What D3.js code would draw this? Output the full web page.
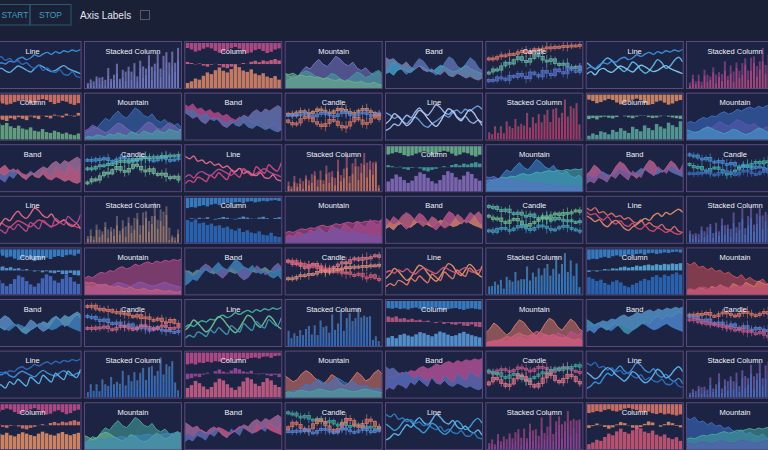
<!DOCTYPE html>
<html><head><meta charset="utf-8">
<script src="https://cdn.jsdelivr.net/npm/d3@7"></script>
<style>html,body{margin:0;padding:0;background:#1a2036;overflow:hidden}svg{display:block}</style>
</head><body><svg id="c" width="768" height="450"></svg>
<script>
// ---- layout of chart types (one string per row) ----
const cellTypes = [
  "LSCMBKLS",
  "CMBKLSCM",
  "BKLSCMBK",
  "LSCMBKLS",
  "CMBKLSCM",
  "BKLSCMBK",
  "LSCMBKLS",
  "CMBKLSCM"
];
const typeTitles = {L:"Line", S:"Stacked Column", C:"Column", M:"Mountain", B:"Band", K:"Candle"};

// ---- value pools (0..100) ----
const wave0 = [42,48,44,52,58,55,62,60,68,72,66,70,78,74,80,84,79,86,82,88,85,90,87,92];
const wave1 = [30,36,28,40,44,38,34,42,50,46,40,35,44,52,48,41,36,39,46,51,44,39,35,31];
const wave2 = [72,65,68,58,52,60,48,42,50,40,36,44,32,29,38,27,24,32,27,21,25,19,16,22];
const wave3 = [18,24,34,30,44,56,50,64,74,62,56,68,82,75,63,58,67,52,46,53,41,36,43,30];
const wave4 = [62,56,48,53,41,35,46,51,43,31,26,35,41,49,56,51,63,69,61,71,66,73,79,71];
const wave5 = [50,54,48,56,52,59,50,46,55,61,56,51,47,56,63,57,52,49,57,62,54,50,55,59];
const wave6 = [14,22,17,30,26,19,35,28,41,32,24,46,38,30,51,42,34,56,47,40,61,52,45,66];
const wave7 = [82,76,83,70,73,64,69,60,63,54,58,49,44,52,39,45,37,34,41,29,27,36,24,21];
const wave8 = [35,45,60,52,40,30,38,55,68,62,48,36,28,40,58,72,66,50,42,56,70,62,46,38];
const wave9 = [58,50,42,48,62,70,64,52,44,36,46,60,54,40,32,38,52,66,58,44,50,64,72,60];
const spikeA = [10,18,8,30,14,24,9,42,20,28,52,16,38,24,58,28,48,20,66,33,44,78,28,58,82,38,62,88,46,72,55,92];
const spikeB = [6,10,14,8,20,12,18,24,10,16,28,14,22,30,12,26,34,18,24,38,20,30,42,22,34,26,44,30,38,48,28,40];
const pool = [wave0,wave1,wave2,wave3,wave4,wave5,wave6,wave7,wave8,wave9];

// which pool series each cell uses (3 digits per cell, row by row)
const cellSeries = [
  "017","058","843","397","281","036","901","264",
  "962","386","472","159","348","705","816","039",
  "264","503","617","127","948","307","816","245",
  "136","480","257","603","819","241","724","915",
  "378","012","953","470","685","139","204","761",
  "419","725","086","342","571","863","140","527",
  "560","214","738","931","602","148","379","056",
  "845","390","164","285","937","612","483","701"
];

// colours of each cell's series, row by row
const cellColors = [
  ["#3d8fdc","#5fb3ea","#2d6cc0"],["#7f8ad8","#9a98e0","#c05890"],["#c24f8e","#d8648a","#e08a6a"],["#7a78c8","#45a0a0","#6fb088"],["#b04a8e","#3c86c8","#4ab0d0"],["#e07a6a","#6ab8a8","#5a78d0"],["#5fb8e8","#3d8fdc","#7fc8f0"],["#c24f8e","#a04aa0","#d0608a"],
  ["#e07a6a","#e38a6a","#6fb088"],["#3d6fc0","#7a68b8","#45a8a0"],["#c24f8e","#b04a8e","#3c86c8"],["#e0906a","#5a88d8","#d87a6a"],["#9ab8e8","#6aa0e0","#b8c8f0"],["#c04070","#d05a80","#a04a8a"],["#e0906a","#6fb8a0","#5aa8a0"],["#3d70c8","#5a5ab0","#45a0c8"],
  ["#c25a8a","#3d78c8","#d06a8a"],["#4a98d8","#5ab8a8","#7ac0a0"],["#d04a80","#b84a90","#e06a8a"],["#e08068","#c8607a","#a0b0a0"],["#6fb890","#45a8a0","#8a70c0"],["#3d88d0","#45b0b8","#5a70c8"],["#d0708a","#3d78c8","#b05a9a"],["#4a90d8","#45b0a8","#3d6fc0"],
  ["#d04a78","#e06a88","#b84a90"],["#b08a78","#8a7a88","#c07a60"],["#3d88d0","#5aa0e0","#2d6cc0"],["#9a4a9a","#c24f8e","#6a5ab0"],["#d8708a","#e0906a","#b04a8e"],["#5ab8a8","#6fc090","#45a0c0"],["#e06a6a","#d04a78","#e08a6a"],["#5a78d0","#7a68c0","#3d8fdc"],
  ["#3d88d0","#5aa0e0","#4a70c8"],["#c24f8e","#8a5ab0","#d0607a"],["#c25a8a","#45a8a0","#3d78c8"],["#e07a8a","#d8607a","#e09080"],["#e07a6a","#e8946a","#d05a78"],["#3d88d8","#5aa8e0","#2d6cc0"],["#3d88d0","#5ab0e0","#2d6cc0"],["#d0505a","#e07a6a","#c04a7a"],
  ["#45a8b0","#3d78c8","#6a9ad0"],["#e07a6a","#5a88d8","#d06a8a"],["#45b0a0","#6fc090","#3d9ab0"],["#3d78d0","#5a98e0","#2d5cb0"],["#3d88d0","#c05a8a","#5aa0e0"],["#e07a6a","#c24f8e","#d8607a"],["#3d78c8","#45a8b0","#5a90d8"],["#e07a6a","#5a88d8","#c05a8a"],
  ["#3d8fdc","#5fb3ea","#2d6cc0"],["#3d78d0","#5a98e0","#2d5cb0"],["#c24f8e","#a04aa0","#d0608a"],["#e07a6a","#3d78c8","#45a8a0"],["#9a5ab0","#c24f8e","#3d78c8"],["#c05a8a","#45a8a0","#e07a8a"],["#3d8fdc","#2d6cc0","#5fb3ea"],["#5a78d0","#8a68c0","#3d8fdc"],
  ["#c24f8e","#e07a6a","#e8946a"],["#45a8a0","#6fb890","#3d88c0"],["#c24f8e","#3d78c8","#d0608a"],["#45a8a0","#e07a6a","#5a88d8"],["#3d9fd8","#5fb3ea","#2d7cc0"],["#a04aa0","#c24f8e","#8a5ab0"],["#e07a6a","#e8946a","#d05a78"],["#3d70c8","#45a8a0","#5a5ab0"]
];

const svg = d3.select("#c");
const W = 768, H = 450;
svg.append("rect").attr("width",W).attr("height",H).attr("fill","#1a2036");

// ---- header ----
const hdr = svg.append("g");
hdr.append("rect").attr("x",-12).attr("y",4.5).attr("width",42).attr("height",20.5).attr("fill","none").attr("stroke","#2a5a70");
hdr.append("rect").attr("x",30).attr("y",4.5).attr("width",41).attr("height",20.5).attr("fill","none").attr("stroke","#2a5a70");
hdr.append("text").attr("x",15).attr("y",18).attr("text-anchor","middle").attr("fill","#3e9cc0")
  .style("font","8.5px 'Liberation Sans', Arial, sans-serif").text("START");
hdr.append("text").attr("x",50.5).attr("y",18).attr("text-anchor","middle").attr("fill","#3e9cc0")
  .style("font","8.5px 'Liberation Sans', Arial, sans-serif").text("STOP");
hdr.append("text").attr("x",80).attr("y",19).attr("fill","#e4e6f0")
  .style("font","10px 'Liberation Sans', Arial, sans-serif").text("Axis Labels");
hdr.append("rect").attr("x",140.5).attr("y",10.5).attr("width",9).attr("height",9).attr("fill","#1a2036").attr("stroke","#555a6a");

// ---- grid ----
const cellW = 98, cellH = 48, pitchX = 100.35, pitchY = 51.6, startX = -16.4, startY = 41;
const font = "'Liberation Sans', Arial, sans-serif";

function rot(arr, k){ return arr.slice(k).concat(arr.slice(0,k)); }

cellTypes.forEach((rowStr, r) => {
  rowStr.split("").forEach((code, c) => {
    const idx = r*8 + c;
    const gx = startX + c*pitchX, gy = startY + r*pitchY;
    const g = svg.append("g").attr("transform",`translate(${gx},${gy})`);
    g.append("rect").attr("x",0.5).attr("y",0.5).attr("width",cellW-1).attr("height",cellH-1)
      .attr("fill","#1d2443").attr("stroke","#5c4886").attr("stroke-width",1);
    const cid = "clip"+idx;
    g.append("clipPath").attr("id",cid).append("rect").attr("x",1).attr("y",1).attr("width",cellW-2).attr("height",cellH-2);
    const body = g.append("g").attr("clip-path",`url(#${cid})`);
    const pal = cellColors[idx];
    const sIdx = cellSeries[idx].split("").map(Number);
    const ser = sIdx.map(i => pool[i]);
    const w = cellW, h = cellH;

    if (code === "L") {
      const xs = d3.scaleLinear().domain([0,23]).range([1,w-1]);
      const ys = d3.scaleLinear().domain([0,100]).range([h-3,5]);
      const line = d3.line().x((d,j)=>xs(j)).y(d=>ys(d)).curve(d3.curveMonotoneX);
      ser.forEach((s,i)=>{
        body.append("path").attr("d",line(s)).attr("fill","none").attr("stroke",pal[i]).attr("stroke-width",1.4).attr("opacity",0.95);
      });
    }
    else if (code === "S") {
      const a = rot(spikeA, sIdx[0] % 6), b = rot(spikeB, sIdx[1] % 5);
      const rows = a.map((v,j)=>({a:v, b:b[j]}));
      const st = d3.stack().keys(["a","b"])(rows);
      const xb = d3.scaleBand().domain(d3.range(a.length)).range([2,w-2]).padding(0.3);
      const ys = d3.scaleLinear().domain([0,135]).range([h-1,6]);
      st.forEach((layer,i)=>{
        body.selectAll(null).data(layer).enter().append("rect")
          .attr("x",(d,j)=>xb(j)).attr("width",xb.bandwidth())
          .attr("y",d=>ys(d[1])).attr("height",d=>ys(d[0])-ys(d[1]))
          .attr("fill",pal[i]).attr("opacity",i===0?0.8:0.6);
      });
    }
    else if (code === "C") {
      const xb = d3.scaleBand().domain(d3.range(24)).range([1,w-1]).padding(0.12);
      const yTop = d3.scaleLinear().domain([0,100]).range([2, h*0.34]);
      const yMid = d3.scaleLinear().domain([0,100]).range([h*0.66, h*0.30]);
      const yBot = d3.scaleLinear().domain([0,100]).range([h-1, h*0.40]);
      body.selectAll(null).data(ser[0]).enter().append("rect")
        .attr("x",(d,j)=>xb(j)).attr("width",xb.bandwidth())
        .attr("y",yTop(0)).attr("height",d=>yTop(d)-yTop(0))
        .attr("fill",pal[0]).attr("opacity",0.85);
      body.selectAll(null).data(ser[1]).enter().append("rect")
        .attr("x",(d,j)=>xb(j)).attr("width",xb.bandwidth())
        .attr("y",d=>Math.min(yMid(d),yMid(50))).attr("height",d=>Math.abs(yMid(d)-yMid(50)))
        .attr("fill",pal[1]).attr("opacity",0.85);
      body.selectAll(null).data(ser[2]).enter().append("rect")
        .attr("x",(d,j)=>xb(j)).attr("width",xb.bandwidth())
        .attr("y",d=>yBot(d)).attr("height",d=>yBot(0)-yBot(d))
        .attr("fill",pal[2]).attr("opacity",0.85);
    }
    else if (code === "M") {
      const xs = d3.scaleLinear().domain([0,23]).range([0,w]);
      ser.forEach((s,i)=>{
        const ys = d3.scaleLinear().domain([0,100*(1+0.55*i)]).range([h,8]);
        const area = d3.area().x((d,j)=>xs(j)).y0(h).y1(d=>ys(d));
        const line = d3.line().x((d,j)=>xs(j)).y(d=>ys(d));
        body.append("path").attr("d",area(s)).attr("fill",pal[i]).attr("opacity",0.55);
        body.append("path").attr("d",line(s)).attr("fill","none").attr("stroke",pal[i]).attr("stroke-width",1).attr("opacity",0.9);
      });
    }
    else if (code === "B") {
      const xs = d3.scaleLinear().domain([0,23]).range([0,w]);
      const ys = d3.scaleLinear().domain([0,100]).range([h-2,4]);
      const pairs = [[ser[0],ser[1]],[ser[1],ser[2]],[ser[2],ser[0]]];
      pairs.forEach((p,i)=>{
        const area = d3.area().x((d,j)=>xs(j)).y0((d,j)=>ys(p[1][j])).y1(d=>ys(d));
        body.append("path").attr("d",area(p[0])).attr("fill",pal[i]).attr("opacity",0.55);
        const l = d3.line().x((d,j)=>xs(j)).y(d=>ys(d));
        body.append("path").attr("d",l(p[0])).attr("fill","none").attr("stroke",pal[i]).attr("stroke-width",0.8).attr("opacity",0.7);
      });
    }
    else if (code === "K") {
      const xb = d3.scaleBand().domain(d3.range(23)).range([1,w-1]).padding(0.22);
      ser.forEach((s,i)=>{
        const ys = d3.scaleLinear().domain([0,100]).range([h*(0.66+0.14*i), h*(0.02+0.14*i)]);
        const candles = s.slice(0,23).map((o,j)=>{
          const cl = s[(j+1)%24];
          const wk = Math.abs(wave5[j]-50)*0.9+5;
          return {o, c:cl, hi:Math.max(o,cl)+wk, lo:Math.min(o,cl)-wk};
        });
        const cg = body.append("g");
        cg.selectAll(null).data(candles).enter().append("line")
          .attr("x1",(d,j)=>xb(j)+xb.bandwidth()/2).attr("x2",(d,j)=>xb(j)+xb.bandwidth()/2)
          .attr("y1",d=>ys(d.hi)).attr("y2",d=>ys(d.lo))
          .attr("stroke",pal[i]).attr("stroke-width",0.8).attr("opacity",0.8);
        cg.selectAll(null).data(candles).enter().append("rect")
          .attr("x",(d,j)=>xb(j)).attr("width",xb.bandwidth())
          .attr("y",d=>ys(Math.max(d.o,d.c))).attr("height",d=>Math.max(2,Math.abs(ys(d.o)-ys(d.c))))
          .attr("fill",pal[i]).attr("fill-opacity",0.5).attr("stroke",pal[i]).attr("stroke-width",0.7);
      });
    }

    g.append("text").attr("x",cellW/2).attr("y",12.5).attr("text-anchor","middle")
      .attr("fill","#f0f0f8").style("font",`7.5px ${font}`).text(typeTitles[code]);
  });
});
</script>
</body></html>
